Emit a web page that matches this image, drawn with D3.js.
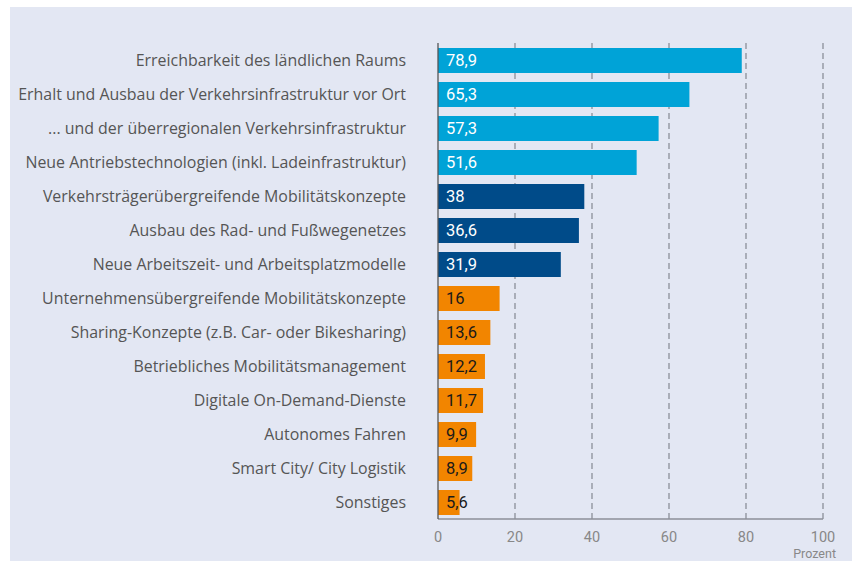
<!DOCTYPE html>
<html>
<head>
<meta charset="utf-8">
<script src="https://cdn.jsdelivr.net/npm/d3@7"></script>
<style>
body{margin:0;background:#fff;}
svg{display:block;}
</style>
</head>
<body>
<svg width="852" height="562"></svg>
<script>
var categories = [
	'Erreichbarkeit des ländlichen Raums',
	'Erhalt und Ausbau der Verkehrsinfrastruktur vor Ort',
	'... und der überregionalen Verkehrsinfrastruktur',
	'Neue Antriebstechnologien (inkl. Ladeinfrastruktur)',
	'Verkehrsträgerübergreifende Mobilitätskonzepte',
	'Ausbau des Rad- und Fußwegenetzes',
	'Neue Arbeitszeit- und Arbeitsplatzmodelle',
	'Unternehmensübergreifende Mobilitätskonzepte',
	'Sharing-Konzepte (z.B. Car- oder Bikesharing)',
	'Betriebliches Mobilitätsmanagement',
	'Digitale On-Demand-Dienste',
	'Autonomes Fahren',
	'Smart City/ City Logistik',
	'Sonstiges'
];
var values = [78.9,65.3,57.3,51.6,38,36.6,31.9,16,13.6,12.2,11.7,9.9,8.9,5.6];
var groups = [0,0,0,0,1,1,1,2,2,2,2,2,2,2];
var xticks = [0,20,40,60,80,100];
var unitLabel = 'Prozent';

var colors = ['#00a3d7','#004b89','#f28500'];
var textColors = ['#ffffff','#ffffff','#1a1a1a'];

var svg = d3.select('svg');
var margin = {left:438,right:29,top:43,bottom:43};
var width = +svg.attr('width');
var height = +svg.attr('height');
var innerwidth = width - margin.left - margin.right;
var innerheight = 519 - margin.top;

svg.append('rect').attr('x',10).attr('y',7).attr('width',width-10).attr('height',554).attr('fill','#e3e7f3');

var xscale = d3.scaleLinear().domain([0,100]).range([0,innerwidth]);
var yscale = d3.scaleBand().domain(categories).range([5,innerheight-4]).paddingInner(0.265).paddingOuter(0);

var g = svg.append('g').attr('transform',`translate(${margin.left},${margin.top})`);

// grid
g.append('g').selectAll('line').data(xticks.slice(1)).enter().append('line')
	.attr('x1',d=>xscale(d)).attr('x2',d=>xscale(d))
	.attr('y1',0).attr('y2',innerheight)
	.attr('stroke','#8c8f99').attr('stroke-width',1.3).attr('stroke-dasharray','6,4');

// bars
g.append('g').selectAll('rect').data(values).enter().append('rect')
	.attr('x',0)
	.attr('y',(d,i)=>yscale(categories[i]))
	.attr('width',d=>xscale(d))
	.attr('height',yscale.bandwidth())
	.attr('fill',(d,i)=>colors[groups[i]]);

// value labels
g.append('g').selectAll('text').data(values).enter().append('text')
	.attr('x',8)
	.attr('y',(d,i)=>yscale(categories[i])+yscale.bandwidth()/2)
	.attr('dy','0.36em')
	.attr('font-family','Roboto, sans-serif').attr('font-size',16.5)
	.attr('fill',(d,i)=>textColors[groups[i]])
	.text(d=>String(d).replace('.',','));

// category labels
var labels = g.append('g').selectAll('text').data(categories).enter().append('text')
	.attr('x',-32)
	.attr('y',d=>yscale(d)+yscale.bandwidth()/2)
	.attr('dy','0.36em')
	.attr('text-anchor','end')
	.attr('font-family','"Open Sans", sans-serif').attr('font-size',16)
	.attr('fill','#555')
	.text(d=>d);
// fit the longest label to the width seen in the reference
var longest = d3.max(labels.nodes(), n => n.getComputedTextLength());
labels.attr('font-size',16*388/longest);

// axes
g.append('line').attr('x1',0).attr('x2',innerwidth).attr('y1',innerheight).attr('y2',innerheight)
	.attr('stroke','#8c8f99').attr('stroke-width',1.3);
g.append('line').attr('x1',0).attr('x2',0).attr('y1',0).attr('y2',innerheight)
	.attr('stroke','#555').attr('stroke-width',1.3);

g.append('g').selectAll('text').data(xticks).enter().append('text')
	.attr('x',d=>xscale(d)).attr('y',innerheight+23)
	.attr('text-anchor','middle')
	.attr('font-family','Roboto, sans-serif').attr('font-size',14.5)
	.attr('fill','#888')
	.text(d=>d);

g.append('text').attr('x',innerwidth+13).attr('y',innerheight+39)
	.attr('text-anchor','end')
	.attr('font-family','Roboto, sans-serif').attr('font-size',12.5)
	.attr('fill','#888')
	.text(unitLabel);
</script>
</body>
</html>
